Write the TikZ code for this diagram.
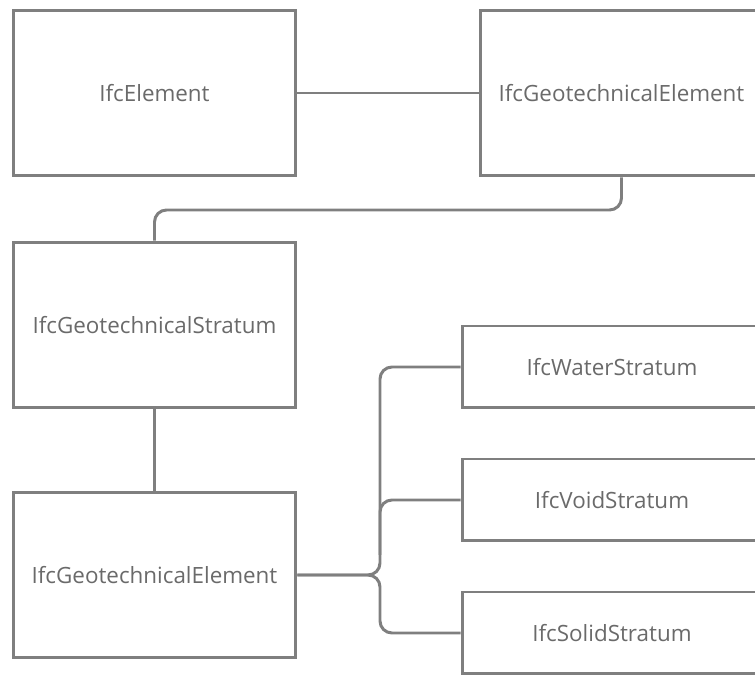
\documentclass[tikz,border=0pt]{standalone}
\usepackage{fontspec}
\setmainfont{Open Sans}
\usepackage{tikz}
\usetikzlibrary{positioning}

\definecolor{linegray}{HTML}{7F7F7F}
\definecolor{textgray}{HTML}{6A6A6A}

\begin{document}
\begin{tikzpicture}[x=0.02cm, y=-0.02cm,
                    entity/.style={rectangle, draw=linegray, line width=1.7pt,
                                   minimum width=5.66cm, minimum height=3.32cm,
                                   text=textgray, font=\fontsize{12.75}{15}\selectfont},
                    stratum/.style={entity, minimum width=6cm, minimum height=1.64cm},
                    link/.style={draw=linegray, line width=1.7pt, rounded corners=0.24cm},
                    ]
\useasboundingbox (0,0) rectangle (755,675);

% upper row
\node[entity] (elem) at (154.5,93) {IfcElement};
\node[entity] (geoelem) at (621.5,93) {IfcGeotechnicalElement};

% left column
\node[entity] (stratum) at (154.5,325) {IfcGeotechnicalStratum};
\node[entity] (geoelem2) at (154.5,575) {IfcGeotechnicalElement};

% subtypes on the right
\node[stratum] (water) at (612,367) {IfcWaterStratum};
\node[stratum] (void)  at (612,500) {IfcVoidStratum};
\node[stratum] (solid) at (612,633) {IfcSolidStratum};

\coordinate (bend) at (154.5,210);
\coordinate (fork) at (380,575);
\coordinate (branch) at (380,555);

\draw[link] (elem) -- (geoelem);
\draw[link] (geoelem.south) |- (bend) -- (stratum.north);
\draw[link] (stratum) -- (geoelem2);
\draw[link] (geoelem2.east) -- (fork) |- (water.west);
\draw[link] (geoelem2.east) -- (fork) |- (solid.west);
\draw[link] (branch) |- (void.west);
\end{tikzpicture}
\end{document}
